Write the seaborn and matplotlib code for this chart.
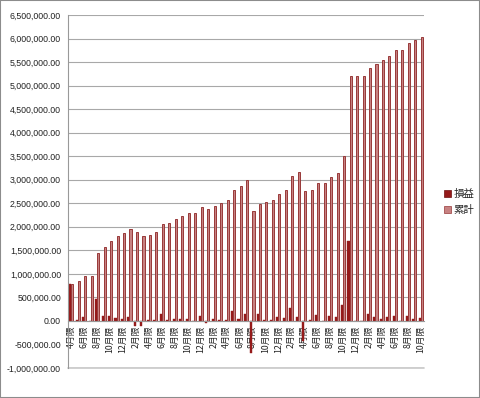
import matplotlib
matplotlib.use("Agg")
import matplotlib.pyplot as plt
import seaborn as sns
import pandas as pd
from matplotlib.ticker import FuncFormatter, MultipleLocator
from matplotlib.patches import Rectangle, Patch

months = ["4月限", "5月限", "6月限", "7月限", "8月限", "9月限", "10月限", "11月限", "12月限",
          "1月限", "2月限", "3月限", "4月限", "5月限", "6月限", "7月限", "8月限", "9月限", "10月限", "11月限", "12月限",
          "1月限", "2月限", "3月限", "4月限", "5月限", "6月限", "7月限", "8月限", "9月限", "10月限", "11月限", "12月限",
          "1月限", "2月限", "3月限", "4月限", "5月限", "6月限", "7月限", "8月限", "9月限", "10月限", "11月限", "12月限",
          "1月限", "2月限", "3月限", "4月限", "5月限", "6月限", "7月限", "8月限", "9月限", "10月限"]

pnl = [787000, 30000, 90000, 0, 470000, 110000, 110000, 70000, 40000, 80000,
       -100000, -100000, 10000, 25000, 140000, 25000, 45000, 40000, 45000, 0,
       105000, -35000, 45000, 30000, 30000, 210000, 45000, 140000, -680000, 155000,
       25000, 25000, 90000, 70000, 270000, 75000, -420000, 10000, 130000, 0,
       105000, 80000, 340000, 1690000, 0, 0, 145000, 80000, 50000, 80000,
       100000, 0, 115000, 50000, 65000]

cum = [787000, 855000, 955000, 955000, 1440000, 1565000, 1695000, 1795000, 1865000, 1950000,
       1886000, 1794000, 1830000, 1894000, 2057000, 2085000, 2156000, 2228000, 2288000, 2291000,
       2411000, 2383000, 2447000, 2503000, 2560000, 2787000, 2858000, 3000000, 2326000, 2489000,
       2532000, 2574000, 2695000, 2787000, 3071000, 3163000, 2752000, 2787000, 2929000, 2929000,
       3050000, 3142000, 3510000, 5213000, 5213000, 5213000, 5376000, 5468000, 5553000, 5638000,
       5766000, 5766000, 5908000, 5964000, 6040000]

series = ["損益", "累計"]

n = len(months)
cats = [f"c{i}" for i in range(n)]
df = pd.DataFrame({
    "cat": cats * 2,
    "series": [series[0]] * n + [series[1]] * n,
    "value": pnl + cum,
})

sns.set_theme(style="white")
plt.rcParams["font.family"] = ["Noto Sans CJK JP", "DejaVu Sans"]

fig = plt.figure(figsize=(4.8, 3.98), dpi=100)
ax = fig.add_axes([68 / 480, 1 - 368 / 398, (424 - 68) / 480, (368 - 15) / 398])

c_pnl = "#951A1A"
c_cum_face = "#C78282"
c_cum_edge = "#983838"

sns.barplot(data=df, x="cat", y="value", hue="series", order=cats, hue_order=series,
            palette=[c_pnl, c_cum_face], width=0.64, ax=ax, legend=False, saturation=1)

for bar in ax.containers[1]:
    bar.set_edgecolor(c_cum_edge)
    bar.set_linewidth(0.7)
for bar in ax.containers[0]:
    bar.set_edgecolor(c_pnl)
    bar.set_linewidth(0.3)

ax.spines["top"].set_visible(False)
ax.spines["right"].set_visible(False)
ax.spines["left"].set_color("#999999")
ax.spines["left"].set_linewidth(0.8)
ax.spines["bottom"].set_position(("data", 0))
ax.spines["bottom"].set_color("#999999")
ax.spines["bottom"].set_linewidth(0.8)

ax.set_xlim(-0.5, n - 0.5)
ax.set_ylim(-1000000, 6500000)
ax.yaxis.set_major_locator(MultipleLocator(500000))
ax.yaxis.set_major_formatter(FuncFormatter(lambda v, p: f"{v:,.2f}"))

ax.set_xticks(range(0, n, 2))
ax.set_xticklabels(months[::2])
ax.set_xlabel("")
ax.set_ylabel("")

ax.tick_params(axis="y", labelsize=6.3, colors="#222222", length=3, width=0.6, color="#888888", pad=2,
               labelfontfamily="Liberation Sans")
ax.tick_params(axis="x", labelsize=6.3, labelcolor="#222222", labelrotation=90,
               length=2, width=0.6, color="#888888", pad=1.5)

ax.set_axisbelow(True)
ax.yaxis.grid(True, color="#A8A8A8", linewidth=0.8)
for val, gl in zip(ax.get_yticks(), ax.get_ygridlines()):
    if -999000 < val < 0:
        gl.set_visible(False)

ax.axhline(-1000000, color="#C8C8C8", linewidth=1.2, clip_on=False, zorder=0)

handles = [Patch(facecolor=c_pnl, edgecolor="#6E1010", linewidth=0.5),
           Patch(facecolor=c_cum_face, edgecolor=c_cum_edge, linewidth=0.5)]
ax.legend(handles, series, loc="center left", bbox_to_anchor=(1.03, 0.47), frameon=False,
          fontsize=7.5, handlelength=0.7, handleheight=0.7, handletextpad=0.2, labelspacing=0.6)

fig.patches.append(Rectangle((0, 0), 1, 1, transform=fig.transFigure, fill=False,
                             edgecolor="#8C8C8C", linewidth=1.5))

fig.savefig("out.png", dpi=100)
